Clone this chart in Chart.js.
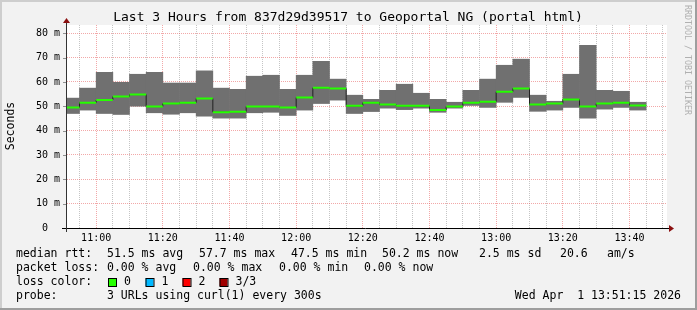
<!DOCTYPE html>
<html><head><meta charset="utf-8">
<script src="https://cdn.jsdelivr.net/npm/chart.js@4/dist/chart.umd.min.js"></script>
<style>html,body{margin:0;padding:0;background:#f2f2f2;overflow:hidden}#wrap{width:697px;height:310px;position:relative}</style>
</head><body><div id="wrap"><canvas id="c" width="697" height="310"></canvas></div>
<script>
// ---- data ----
const binTimes = ['10:50','10:55','11:00','11:05','11:10','11:15','11:20','11:25','11:30','11:35',
  '11:40','11:45','11:50','11:55','12:00','12:05','12:10','12:15','12:20','12:25',
  '12:30','12:35','12:40','12:45','12:50','12:55','13:00','13:05','13:10','13:15',
  '13:20','13:25','13:30','13:35','13:40'];
const smokeLow  = [46.9,48.3,46.9,46.5,49.9,47.2,46.6,47.2,45.8,45.0,
  45.0,47.2,47.4,46.1,48.3,51.0,52.4,46.9,47.7,49.1,
  48.5,49.1,47.4,49.1,50.2,49.4,51.5,53.5,47.8,48.3,
  49.4,45.0,48.7,49.4,48.3];
const smokeHigh = [53.5,57.6,64.1,60.0,63.3,64.1,59.7,59.7,64.7,57.6,
  57.1,62.5,62.9,57.1,62.9,68.6,61.3,54.7,53.0,56.7,
  59.2,55.5,53.0,51.8,56.7,61.3,67.0,69.5,54.7,52.2,
  63.3,75.2,56.7,56.3,51.8];
const medianRtt = [49.5,51.5,52.6,54.0,54.8,49.9,51.1,51.5,53.2,47.6,
  47.8,49.9,49.9,49.5,53.6,57.6,57.3,50.2,51.5,50.7,
  50.2,50.2,48.5,49.9,51.5,51.9,56.0,57.3,50.7,51.1,
  52.8,49.9,51.1,51.5,50.3];
const binMinutes = 5;
const viewStart = '10:51:15';
const viewEnd = '13:51:15';
const xTickLabels = ['11:00','11:20','11:40','12:00','12:20','12:40','13:00','13:20','13:40'];
const yTickValues = [0,10,20,30,40,50,60,70,80];
const yTickLabels = ['0  ','10 m','20 m','30 m','40 m','50 m','60 m','70 m','80 m'];
const yMax = 83.4;

const titleText = 'Last 3 Hours from 837d29d39517 to Geoportal NG (portal html)';
const yAxisTitle = 'Seconds';
const watermark = 'RRDTOOL / TOBI OETIKER';
const rttLine = [['median rtt:',16],['51.5 ms avg',107],['57.7 ms max',199],['47.5 ms min',291],['50.2 ms now',382],['2.5 ms sd',479],['20.6',560],['am/s',607]];
const lossLine = [['packet loss:',16],['0.00 % avg',107],['0.00 % max',193],['0.00 % min',279],['0.00 % now',364]];
const lossColorLabel = 'loss color:';
const lossColorNames = ['0','1','2','3/3'];
const lossColors = ['#26ff00','#00b8ff','#ff0000','#a00000'];
const lossBoxX = [108,145.5,182.5,219.5];
const probeLine = [['probe:',16],['3 URLs using curl(1) every 300s',107]];
const dateText = 'Wed Apr  1 13:51:15 2026';

// ---- derived ----
const MONO = 'DejaVu Sans Mono';
const toMin = s => { const p = s.split(':').map(Number); return p[0]*60 + p[1] + (p[2]||0)/60; };
const xMin = toMin(viewStart), xMax = toMin(viewEnd);
const starts = binTimes.map(toMin);
const xLabelMap = {}; xTickLabels.forEach(l => xLabelMap[toMin(l)] = l);
const yLabelMap = {}; yTickValues.forEach((v,i) => yLabelMap[v] = yTickLabels[i]);
const minorX = []; for (let v = Math.ceil(xMin/5)*5; v <= xMax; v += 5) minorX.push(v);
const minorY = []; for (let v = 0; v <= 80; v += 5) minorY.push(v);

const smokeData = starts.map((s,i) => ({x: s + binMinutes/2, y: [smokeLow[i], smokeHigh[i]]}));
const last = starts.length - 1;
const stepData = starts.map((s,i) => ({x: s, y: medianRtt[i]})).concat([{x: starts[last] + binMinutes, y: medianRtt[last]}]);
const greenData = [];
starts.forEach((s,i) => { greenData.push({x: s, y: medianRtt[i]}, {x: s + binMinutes, y: medianRtt[i]}, {x: s + binMinutes, y: null}); });

const RED = 'rgba(232,96,96,0.55)';
const GREY = 'rgba(150,150,150,0.55)';

const deco = {
  id: 'deco',
  beforeDraw(chart) {
    const ctx = chart.ctx, a = chart.chartArea;
    ctx.save();
    ctx.fillStyle = '#f2f2f2'; ctx.fillRect(0,0,697,310);
    ctx.fillStyle = '#cecece'; ctx.fillRect(0,0,697,2); ctx.fillRect(0,0,2,310);
    ctx.fillStyle = '#9e9e9e'; ctx.fillRect(0,308,697,2); ctx.fillRect(695,0,2,310);
    ctx.fillStyle = '#ffffff'; ctx.fillRect(a.left, a.top, a.right - a.left, a.bottom - a.top);
    ctx.restore();
  },
  afterDraw(chart) {
    const ctx = chart.ctx, a = chart.chartArea;
    const ys = chart.scales.y;
    ctx.save();
    ctx.strokeStyle = '#909090'; ctx.lineWidth = 1;
    yTickValues.forEach(v => { const py = Math.round(ys.getPixelForValue(v)) + 0.5; ctx.beginPath(); ctx.moveTo(a.left - 4, py); ctx.lineTo(a.left, py); ctx.stroke(); });
    ctx.strokeStyle = '#000'; ctx.lineWidth = 1;
    const by = Math.round(a.bottom) + 0.5;
    ctx.beginPath(); ctx.moveTo(a.left - 5, by); ctx.lineTo(a.right + 2, by); ctx.stroke();
    ctx.strokeStyle = '#333';
    const lx = Math.round(a.left) - 0.5;
    ctx.beginPath(); ctx.moveTo(lx, a.bottom + 4); ctx.lineTo(lx, a.top - 3); ctx.stroke();
    ctx.fillStyle = '#8b1010';
    ctx.beginPath(); ctx.moveTo(a.right + 2, by - 3.5); ctx.lineTo(a.right + 7, by); ctx.lineTo(a.right + 2, by + 3.5); ctx.closePath(); ctx.fill();
    ctx.beginPath(); ctx.moveTo(lx - 3.5, a.top - 2); ctx.lineTo(lx, a.top - 7); ctx.lineTo(lx + 3.5, a.top - 2); ctx.closePath(); ctx.fill();
    ctx.fillStyle = '#000'; ctx.textBaseline = 'middle';
    ctx.font = '13px "' + MONO + '"'; ctx.textAlign = 'center';
    ctx.fillText(titleText, 348, 18);
    ctx.save(); ctx.translate(11, 126); ctx.rotate(-Math.PI/2);
    ctx.font = '11.5px "' + MONO + '"'; ctx.fillText(yAxisTitle, 0, 0); ctx.restore();
    ctx.save(); ctx.translate(687, 5); ctx.rotate(Math.PI/2);
    ctx.font = '8.3px "' + MONO + '"'; ctx.fillStyle = '#b0b0b0'; ctx.textAlign = 'left';
    ctx.fillText(watermark, 0, 0); ctx.restore();
    ctx.font = '11.5px "' + MONO + '"'; ctx.textAlign = 'left'; ctx.fillStyle = '#000';
    rttLine.forEach(([t,x]) => ctx.fillText(t, x, 254));
    lossLine.forEach(([t,x]) => ctx.fillText(t, x, 268));
    ctx.fillText(lossColorLabel, 16, 282);
    lossColorNames.forEach((n,i) => {
      const bx = lossBoxX[i];
      ctx.fillStyle = lossColors[i]; ctx.fillRect(bx, 278, 8, 8);
      ctx.strokeStyle = '#000'; ctx.lineWidth = 1; ctx.strokeRect(bx + 0.5, 278.5, 8, 8);
      ctx.fillStyle = '#000'; ctx.fillText(n, bx + 16, 282);
    });
    probeLine.forEach(([t,x]) => ctx.fillText(t, x, 296));
    ctx.textAlign = 'right'; ctx.fillText(dateText, 681, 296);
    ctx.restore();
  }
};

new Chart(document.getElementById('c'), {
  type: 'bar',
  data: { datasets: [
    { type: 'line', data: greenData, borderColor: '#26ff00', borderWidth: 2, pointRadius: 0, spanGaps: false, order: 1 },
    { type: 'line', data: stepData, stepped: true, borderColor: '#202020', borderWidth: 1, pointRadius: 0, order: 2 },
    { type: 'bar', data: smokeData, backgroundColor: '#707070', borderWidth: 0, barPercentage: 1.04, categoryPercentage: 1, grouped: false, order: 3 }
  ]},
  options: {
    responsive: false, animation: false, devicePixelRatio: 1,
    layout: { padding: { left: 0, right: 30, top: 25, bottom: 0 } },
    plugins: { legend: { display: false }, tooltip: { enabled: false }, title: { display: false } },
    scales: {
      x: {
        type: 'linear', min: xMin, max: xMax, offset: false,
        grid: { offset: false, drawTicks: false, lineWidth: 1, color: c => (c.tick && c.tick.value % 20 === 0) ? RED : GREY },
        border: { display: false, dash: [1,1] },
        ticks: { autoSkip: false, maxRotation: 0, minRotation: 0, padding: 4, color: '#000', font: { family: MONO, size: 10 }, callback: v => xLabelMap[v] || '' },
        afterBuildTicks: sc => { sc.ticks = minorX.map(v => ({value: v})); },
        afterFit: sc => { sc.height = 82; }
      },
      y: {
        type: 'linear', min: 0, max: yMax,
        grid: { drawTicks: false, lineWidth: 1, color: c => (!c.tick || c.tick.value === 0) ? 'rgba(0,0,0,0)' : (c.tick.value % 10 === 0 ? RED : GREY) },
        border: { display: false, dash: [1,1] },
        ticks: { padding: 7, color: '#000', font: { family: MONO, size: 10 }, callback: v => yLabelMap[v] !== undefined ? yLabelMap[v] : '' },
        afterBuildTicks: sc => { sc.ticks = minorY.map(v => ({value: v})); },
        afterFit: sc => { sc.width = 67; }
      }
    }
  },
  plugins: [deco]
});
</script>
</body></html>
